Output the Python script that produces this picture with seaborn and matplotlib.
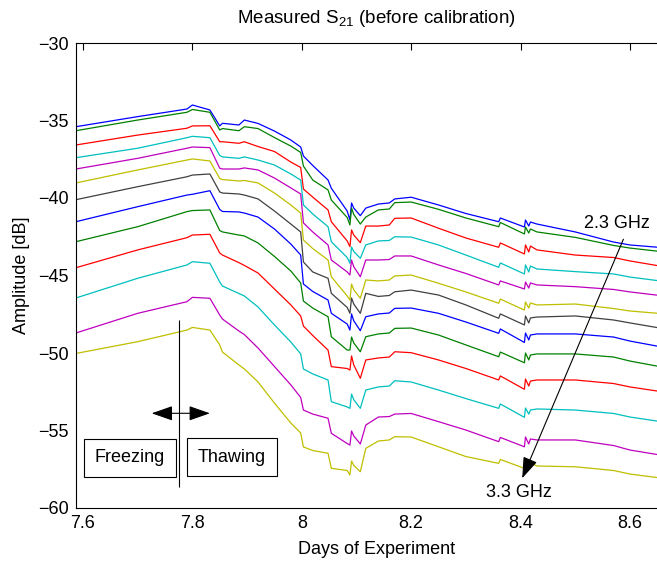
import matplotlib
matplotlib.use("Agg")
import matplotlib.pyplot as plt
import numpy as np
import pandas as pd
import seaborn as sns

# ---------------- data ----------------
days = [7.587, 7.70, 7.79, 7.80, 7.832, 7.850, 7.855, 7.885, 7.895, 7.92,
        7.95, 7.98, 7.998, 8.003, 8.02, 8.048, 8.054, 8.083, 8.088, 8.091,
        8.095, 8.107, 8.117, 8.14, 8.16, 8.17, 8.20, 8.25, 8.30, 8.36,
        8.363, 8.407, 8.409, 8.415, 8.418, 8.43, 8.50, 8.57, 8.60, 8.655]

freqs = ["2.30 GHz", "2.38 GHz", "2.47 GHz", "2.55 GHz", "2.63 GHz", "2.72 GHz",
         "2.80 GHz", "2.88 GHz", "2.97 GHz", "3.05 GHz", "3.13 GHz", "3.22 GHz",
         "3.30 GHz"]

amp_230 = [-35.40, -34.75, -34.26, -34.00, -34.32, -35.35, -35.18, -35.29, -34.97, -35.19,
           -35.68, -36.26, -36.71, -37.29, -37.90, -38.84, -39.37, -40.84, -41.42, -40.32,
           -40.65, -41.14, -40.65, -40.39, -40.32, -40.06, -39.95, -40.45, -41.00, -41.53,
           -41.29, -41.87, -41.42, -41.81, -41.55, -41.68, -42.19, -42.84, -43.03, -43.19]
amp_238 = [-35.66, -34.97, -34.47, -34.29, -34.47, -35.61, -35.52, -35.66, -35.40, -35.52,
           -36.10, -36.65, -37.06, -37.94, -38.84, -39.48, -40.13, -41.26, -41.74, -40.65,
           -41.06, -41.68, -41.23, -40.77, -40.71, -40.30, -40.26, -40.73, -41.29, -41.85,
           -41.58, -42.32, -41.87, -42.26, -42.00, -42.19, -42.54, -43.06, -43.23, -43.45]
amp_247 = [-36.58, -35.94, -35.50, -35.35, -35.34, -36.37, -36.37, -36.47, -36.37, -36.68,
           -37.00, -37.68, -38.03, -39.42, -39.94, -40.77, -41.53, -42.77, -43.14, -42.06,
           -42.39, -42.88, -41.81, -41.81, -41.74, -41.31, -41.29, -41.95, -42.58, -43.18,
           -42.90, -43.61, -43.03, -43.48, -43.10, -43.35, -43.68, -43.84, -44.06, -44.39]
amp_255 = [-37.40, -36.79, -36.11, -36.02, -36.11, -37.26, -37.35, -37.44, -37.35, -37.55,
           -37.87, -38.45, -38.84, -40.45, -41.03, -41.85, -42.82, -43.84, -44.21, -43.16,
           -43.45, -43.89, -43.03, -42.77, -42.74, -42.50, -42.52, -43.03, -43.68, -44.47,
           -44.19, -44.90, -44.32, -44.77, -44.39, -44.58, -44.75, -44.90, -45.10, -45.35]
amp_263 = [-38.13, -37.44, -36.79, -36.71, -36.75, -38.08, -38.13, -38.13, -38.06, -38.19,
           -38.71, -39.35, -39.74, -41.61, -42.19, -43.03, -44.00, -44.77, -44.97, -44.00,
           -44.43, -45.08, -44.00, -44.00, -43.97, -43.74, -43.74, -44.32, -44.87, -45.61,
           -45.35, -45.87, -45.42, -45.81, -45.48, -45.61, -45.72, -45.90, -46.06, -46.29]
amp_272 = [-39.03, -38.19, -37.55, -37.48, -37.61, -38.74, -38.81, -38.90, -38.87, -39.03,
           -39.68, -40.45, -40.97, -42.71, -43.26, -44.00, -45.08, -46.32, -46.58, -45.55,
           -45.92, -46.47, -45.29, -45.35, -45.29, -45.03, -44.97, -45.50, -46.06, -46.79,
           -46.52, -47.23, -46.71, -47.10, -46.77, -46.90, -46.84, -47.13, -47.29, -47.45]
amp_280 = [-40.11, -39.27, -38.63, -38.52, -38.45, -39.61, -39.68, -39.74, -39.81, -40.06,
           -40.84, -41.68, -42.19, -44.13, -44.77, -45.18, -46.15, -47.06, -47.44, -46.45,
           -46.84, -47.44, -46.15, -46.35, -46.29, -46.05, -45.94, -46.26, -46.90, -47.76,
           -47.48, -48.19, -47.61, -48.06, -47.74, -47.68, -47.61, -47.87, -48.06, -48.39]
amp_288 = [-41.53, -40.56, -39.81, -39.76, -39.53, -40.74, -40.87, -40.90, -40.97, -41.23,
           -42.00, -42.97, -43.68, -45.55, -46.03, -46.58, -47.44, -48.13, -48.52, -47.48,
           -47.92, -48.56, -47.66, -47.48, -47.42, -47.12, -47.10, -47.44, -48.00, -48.73,
           -48.45, -49.32, -48.71, -49.16, -48.84, -48.77, -48.77, -48.97, -49.23, -49.59]
amp_297 = [-42.82, -41.85, -40.88, -40.81, -40.77, -42.10, -42.19, -42.39, -42.45, -42.90,
           -43.77, -44.71, -45.48, -46.65, -47.10, -47.66, -48.95, -49.81, -49.81, -48.97,
           -49.35, -49.92, -48.95, -48.77, -48.71, -48.41, -48.39, -48.84, -49.48, -50.24,
           -49.94, -50.63, -50.00, -50.45, -50.13, -50.06, -50.06, -50.26, -50.52, -50.88]
amp_305 = [-44.50, -43.35, -42.56, -42.39, -42.34, -43.55, -43.68, -44.17, -44.35, -44.84,
           -45.87, -46.90, -47.61, -48.26, -48.87, -49.81, -50.88, -51.00, -51.10, -50.19,
           -50.77, -51.63, -50.45, -50.32, -50.26, -49.92, -49.98, -50.45, -51.00, -51.74,
           -51.48, -52.34, -51.68, -52.13, -51.81, -51.74, -51.74, -51.97, -52.19, -52.48]
amp_313 = [-46.45, -45.18, -44.32, -44.11, -44.21, -45.42, -45.68, -46.16, -46.32, -47.03,
           -48.19, -49.29, -50.06, -51.03, -51.35, -51.74, -53.14, -53.48, -53.57, -52.65,
           -53.01, -53.57, -52.39, -52.19, -52.13, -51.79, -51.87, -52.39, -52.94, -53.57,
           -53.29, -54.15, -53.55, -53.94, -53.68, -53.61, -53.68, -53.90, -54.13, -54.42]
amp_322 = [-48.71, -47.44, -46.69, -46.41, -46.47, -47.55, -47.81, -48.58, -48.81, -49.68,
           -50.87, -52.06, -52.87, -53.68, -53.94, -54.21, -55.18, -55.84, -55.94, -55.03,
           -55.35, -55.87, -54.65, -54.13, -54.10, -53.94, -53.90, -54.43, -54.97, -55.72,
           -55.45, -56.05, -55.42, -55.87, -55.55, -55.61, -55.61, -55.97, -56.26, -56.58]
amp_330 = [-50.03, -49.27, -48.52, -48.35, -48.52, -49.48, -49.94, -50.77, -51.03, -51.87,
           -53.23, -54.52, -55.16, -56.06, -56.29, -56.47, -57.44, -57.58, -57.87, -56.97,
           -57.25, -57.66, -56.15, -55.68, -55.61, -55.40, -55.42, -56.05, -56.68, -57.12,
           -56.87, -57.44, -57.03, -57.35, -57.10, -57.29, -57.34, -57.58, -57.81, -58.06]

series = [amp_230, amp_238, amp_247, amp_255, amp_263, amp_272, amp_280,
          amp_288, amp_297, amp_305, amp_313, amp_322, amp_330]

# MATLAB classic colour order
line_colors = ["#0000ff", "#008000", "#ff0000", "#00bfbf", "#bf00bf",
               "#bfbf00", "#404040", "#0000ff", "#008000", "#ff0000",
               "#00bfbf", "#bf00bf", "#bfbf00"]

xticks = [7.6, 7.8, 8.0, 8.2, 8.4, 8.6]
xtick_labels = ["7.6", "7.8", "8", "8.2", "8.4", "8.6"]
yticks = [-60, -55, -50, -45, -40, -35, -30]

df = pd.DataFrame({
    "day": np.tile(days, len(freqs)),
    "amp": np.concatenate(series),
    "freq": np.repeat(freqs, len(days)),
})

# ---------------- style ----------------
sns.set_style("white", {
    "axes.edgecolor": "black", "xtick.color": "black", "ytick.color": "black",
    "text.color": "black", "axes.labelcolor": "black",
    "xtick.direction": "in", "ytick.direction": "in",
})
plt.rcParams["font.family"] = ["Liberation Sans", "DejaVu Sans"]
plt.rcParams["mathtext.fontset"] = "custom"
plt.rcParams["mathtext.rm"] = "Liberation Sans"

fig = plt.figure(figsize=(6.57, 5.63), dpi=100)
ax = fig.add_axes([76 / 657, 55 / 563, 601 / 657, 465 / 563])

sns.lineplot(data=df, x="day", y="amp", hue="freq", hue_order=freqs,
             palette=line_colors, estimator=None, sort=False,
             linewidth=0.9, legend=False, ax=ax)

ax.set_xlim(7.5872, 8.686)
ax.set_ylim(-60, -30)
ax.set_xticks(xticks)
ax.set_xticklabels(xtick_labels)
ax.set_yticks(yticks)
ax.tick_params(direction="in", top=True, right=True, length=5, width=0.8,
               labelsize=13, pad=5)
for s in ax.spines.values():
    s.set_visible(True)
    s.set_color("black")
    s.set_linewidth(0.8)

ax.set_xlabel("Days of Experiment", fontsize=13, labelpad=6.5)
ax.set_ylabel("Amplitude [dB]", fontsize=13, labelpad=6)
ax.set_title("Measured S$_\\mathregular{21}$ (before calibration)", fontsize=13.5, pad=14.5)

# ---------------- annotations ----------------
ax.vlines(7.776, -58.66, -47.87, color="black", linewidth=0.8)
ax.annotate("", xy=(7.7256, -53.89), xytext=(7.832, -53.89),
            arrowprops=dict(arrowstyle="<|-|>,head_length=1.0,head_width=0.35",
                            mutation_scale=13, color="black", lw=0.8,
                            shrinkA=0, shrinkB=0))
box = dict(boxstyle="square,pad=0.6", fc="white", ec="black", lw=0.8)
ax.text(7.6854, -56.77, "Freezing", ha="center", va="center", fontsize=13, bbox=box)
ax.text(7.8718, -56.71, "Thawing", ha="center", va="center", fontsize=13, bbox=box)

ax.annotate("", xy=(8.403, -58.08), xytext=(8.588, -42.66),
            arrowprops=dict(arrowstyle="-|>,head_length=1.0,head_width=0.35",
                            mutation_scale=13, color="black", lw=0.8,
                            shrinkA=0, shrinkB=0))
ax.text(8.577, -41.65, "2.3 GHz", ha="center", va="center", fontsize=13)
ax.text(8.397, -59.03, "3.3 GHz", ha="center", va="center", fontsize=13)

fig.savefig("out.png", dpi=100)
